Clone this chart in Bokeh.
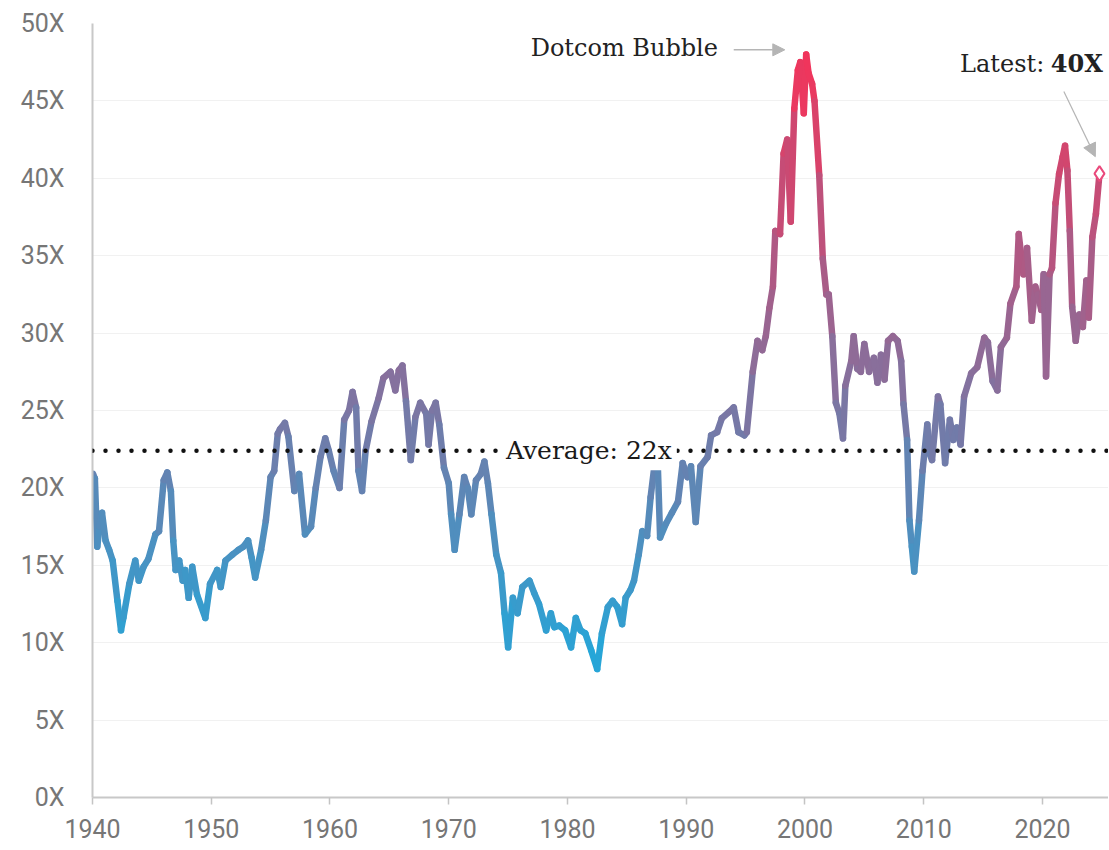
import numpy as np
from bokeh.plotting import figure
from bokeh.models import (Range1d, FixedTicker, PrintfTickFormatter, Span, Label,
                          Arrow, NormalHead, ColumnDataSource)
from bokeh.transform import linear_cmap
from bokeh.embed import file_html
from bokeh.resources import INLINE

# ---------------- data ----------------
years = [1940.05, 1940.2, 1940.4, 1940.6, 1940.8, 1941.1, 1941.4, 1941.7, 1942.1, 1942.4,
         1942.6, 1943.1, 1943.6, 1943.9, 1944.3, 1944.7, 1945.3, 1945.6, 1946.0, 1946.3,
         1946.6, 1946.8, 1947.0, 1947.3, 1947.6, 1947.8, 1948.1, 1948.4, 1948.8, 1949.5,
         1949.9, 1950.5, 1950.8, 1951.2, 1951.8, 1952.3, 1952.7, 1953.1, 1953.4, 1953.7,
         1954.2, 1954.6, 1955.0, 1955.3, 1955.6, 1955.8, 1956.2, 1956.5, 1957.0, 1957.4,
         1957.9, 1958.4, 1958.8, 1959.2, 1959.6, 1959.9, 1960.3, 1960.8, 1961.2, 1961.6,
         1961.9, 1962.2, 1962.4, 1962.7, 1963.0, 1963.5, 1964.1, 1964.5, 1965.1, 1965.5,
         1965.8, 1966.1, 1966.4, 1966.8, 1967.2, 1967.6, 1968.1, 1968.3, 1968.6, 1968.9,
         1969.2, 1969.6, 1970.0, 1970.2, 1970.5, 1970.9, 1971.3, 1971.6, 1971.9, 1972.3,
         1972.7, 1973.0, 1973.3, 1973.6, 1974.0, 1974.4, 1974.7, 1975.0, 1975.4, 1975.8,
         1976.2, 1976.8, 1977.2, 1977.6, 1978.2, 1978.6, 1978.9, 1979.3, 1979.8, 1980.3,
         1980.7, 1981.1, 1981.5, 1982.0, 1982.5, 1982.9, 1983.4, 1983.8, 1984.2, 1984.6,
         1984.9, 1985.3, 1985.6, 1986.0, 1986.3, 1986.7, 1987.0, 1987.3, 1987.6, 1987.8,
         1988.3, 1988.8, 1989.3, 1989.7, 1990.1, 1990.4, 1990.8, 1991.2, 1991.8, 1992.1,
         1992.6, 1993.0, 1993.6, 1994.0, 1994.4, 1994.9, 1995.1, 1995.6, 1996.0, 1996.4,
         1996.7, 1997.0, 1997.3, 1997.5, 1997.9, 1998.2, 1998.5, 1998.8, 1999.1, 1999.4,
         1999.6, 1999.9, 2000.1, 2000.3, 2000.6, 2000.8, 2001.2, 2001.5, 2001.8, 2002.0,
         2002.3, 2002.6, 2002.9, 2003.2, 2003.4, 2003.9, 2004.1, 2004.4, 2004.7, 2005.0,
         2005.4, 2005.8, 2006.1, 2006.4, 2006.7, 2007.0, 2007.4, 2007.8, 2008.1, 2008.3,
         2008.6, 2008.8, 2009.0, 2009.2, 2009.6, 2009.9, 2010.3, 2010.5, 2010.7, 2011.2,
         2011.4, 2011.8, 2012.2, 2012.5, 2012.8, 2013.1, 2013.4, 2014.0, 2014.5, 2015.1,
         2015.4, 2015.8, 2016.2, 2016.5, 2017.0, 2017.3, 2017.8, 2018.0, 2018.4, 2018.7,
         2019.1, 2019.4, 2019.6, 2019.9, 2020.1, 2020.3, 2020.6, 2020.8, 2021.1, 2021.4,
         2021.7, 2021.9, 2022.1, 2022.3, 2022.5, 2022.8, 2023.1, 2023.4, 2023.7, 2023.9,
         2024.2, 2024.5, 2024.8]

pe = [20.9, 20.6, 16.2, 17.5, 18.4, 16.6, 16.0, 15.3, 12.7, 10.8,
      11.6, 13.8, 15.3, 14.0, 14.9, 15.4, 17.0, 17.2, 20.5, 21.0,
      19.8, 16.6, 14.7, 15.3, 14.0, 14.7, 12.9, 14.9, 13.1, 11.6,
      13.8, 14.7, 13.6, 15.3, 15.7, 16.0, 16.2, 16.6, 15.5, 14.2,
      16.0, 17.9, 20.7, 21.1, 23.5, 23.8, 24.2, 23.3, 19.8, 20.9,
      17.0, 17.5, 20.0, 22.0, 23.2, 22.4, 21.1, 20.0, 24.4, 25.0,
      26.2, 25.2, 21.1, 19.8, 22.4, 24.3, 25.8, 27.1, 27.5, 26.3,
      27.6, 27.9, 25.6, 21.8, 24.6, 25.5, 24.8, 22.8, 25.0, 25.5,
      24.1, 21.3, 20.3, 18.3, 16.0, 18.3, 20.7, 20.0, 18.3, 20.5,
      20.9, 21.7, 20.3, 18.3, 15.7, 14.5, 11.9, 9.7, 12.9, 11.9,
      13.6, 14.0, 13.2, 12.5, 10.8, 11.9, 11.0, 11.1, 10.8, 9.7,
      11.6, 10.8, 10.6, 9.5, 8.3, 10.6, 12.3, 12.7, 12.3, 11.2,
      12.9, 13.4, 14.0, 15.7, 17.2, 16.9, 19.4, 21.3, 21.6, 16.8,
      17.7, 18.4, 19.1, 21.6, 20.7, 21.4, 17.8, 21.4, 22.0, 23.4,
      23.6, 24.5, 24.9, 25.2, 23.6, 23.4, 23.6, 27.5, 29.5, 28.9,
      29.8, 31.6, 33.0, 36.6, 36.4, 41.6, 42.5, 37.2, 44.5, 47.0,
      47.5, 44.2, 48.0, 46.8, 46.1, 45.0, 40.2, 34.8, 32.5, 32.5,
      29.8, 25.5, 24.8, 23.2, 26.6, 28.2, 29.8, 27.7, 27.5, 29.3,
      27.5, 28.4, 26.8, 28.6, 27.0, 29.5, 29.8, 29.5, 28.2, 25.4,
      23.1, 17.9, 16.2, 14.6, 17.9, 21.1, 24.1, 22.2, 21.8, 25.9,
      25.4, 21.6, 24.4, 23.1, 23.9, 22.8, 25.9, 27.4, 27.8, 29.7,
      29.4, 26.9, 26.3, 29.1, 29.7, 31.9, 33.0, 36.4, 33.8, 35.5,
      30.8, 33.0, 32.5, 31.5, 33.8, 27.2, 33.8, 34.2, 38.4, 40.3,
      41.4, 42.1, 40.5, 36.6, 31.7, 29.5, 31.2, 30.4, 33.4, 31.0,
      36.2, 37.7, 40.3]

x_ticks = [1940, 1950, 1960, 1970, 1980, 1990, 2000, 2010, 2020]
y_ticks = [0, 5, 10, 15, 20, 25, 30, 35, 40, 45, 50]
average_value = 22.4
average_text = "Average: 22x"
bubble_text = "Dotcom Bubble"
latest_prefix = "Latest:"
latest_value_text = "40X"

# ---------------- styling helpers ----------------
def interp_palette(c0, c1, n=256):
    a = np.array([int(c0[i:i + 2], 16) for i in (1, 3, 5)], dtype=float)
    b = np.array([int(c1[i:i + 2], 16) for i in (1, 3, 5)], dtype=float)
    out = []
    for t in np.linspace(0, 1, n):
        c = np.round(a + (b - a) * t).astype(int)
        out.append("#%02x%02x%02x" % tuple(c))
    return out

palette = interp_palette("#25a6d8", "#f0355c")

seg = ColumnDataSource(dict(
    x0=years[:-1], y0=pe[:-1], x1=years[1:], y1=pe[1:],
    mid=[(a + b) / 2 for a, b in zip(pe[:-1], pe[1:])],
))

p = figure(width=1108, height=848,
           x_range=Range1d(1940, 2025.56), y_range=Range1d(0, 50),
           output_backend="svg", toolbar_location=None,
           min_border_left=92, min_border_right=0, min_border_top=23,
           min_border_bottom=51)
p.outline_line_color = None
p.background_fill_color = "white"
p.border_fill_color = "white"

# grid
p.xgrid.grid_line_color = None
p.ygrid.ticker = FixedTicker(ticks=y_ticks)
p.ygrid.grid_line_color = "#f1f1f1"
p.ygrid.grid_line_width = 1

# axes
tick_font = "Roboto"
p.xaxis.ticker = FixedTicker(ticks=x_ticks)
p.xaxis.minor_tick_line_color = None
p.xaxis.major_tick_out = 7
p.xaxis.major_tick_in = 0
p.xaxis.major_tick_line_color = "#c4c4c4"
p.xaxis.major_tick_line_width = 1.5
p.xaxis.axis_line_color = "#c8c8c8"
p.xaxis.axis_line_width = 2
p.xaxis.major_label_text_font = tick_font
p.xaxis.major_label_text_font_size = "25px"
p.xaxis.major_label_text_color = "#767676"
p.xaxis.major_label_standoff = 14

p.yaxis.ticker = FixedTicker(ticks=y_ticks)
p.yaxis.formatter = PrintfTickFormatter(format="%dX")
p.yaxis.minor_tick_line_color = None
p.yaxis.major_tick_line_color = None
p.yaxis.major_tick_out = 0
p.yaxis.major_tick_in = 0
p.yaxis.axis_line_color = "#c8c8c8"
p.yaxis.axis_line_width = 2
p.yaxis.major_label_text_font = tick_font
p.yaxis.major_label_text_font_size = "25px"
p.yaxis.major_label_text_color = "#767676"
p.yaxis.major_label_standoff = 28

# gradient line
p.segment(x0="x0", y0="y0", x1="x1", y1="y1", source=seg,
          line_color=linear_cmap("mid", palette, 9, 47),
          line_width=6.5, line_cap="round", line_join="round")

# latest marker
p.scatter(x=[years[-1]], y=[pe[-1]], marker="diamond", size=15,
          fill_color="white", line_color="#ea4a7c", line_width=2)

# average line
avg = Span(location=average_value, dimension="width", line_color="#111111",
           line_width=4.5, line_dash="0 13", line_cap="round")
p.add_layout(avg)

serif = "DejaVu Serif"
avg_lbl = Label(x=1981.8, y=average_value, text=average_text,
                text_font=serif, text_font_size="25px", text_color="#1a1a1a",
                text_align="center", text_baseline="middle",
                background_fill_color="white", padding=5)
p.add_layout(avg_lbl)

# dotcom annotation
p.add_layout(Label(x=1976.9, y=48.4, text=bubble_text, text_font=serif,
                   text_font_size="24px", text_color="#222222",
                   text_align="left", text_baseline="middle"))
p.add_layout(Arrow(x_start=1994.0, y_start=48.3, x_end=1998.3, y_end=48.3,
                   line_color="#b5b5b5", line_width=1.5,
                   end=NormalHead(size=12, fill_color="#b5b5b5",
                                  line_color="#b5b5b5")))

# latest annotation
p.add_layout(Label(x=2020.15, y=47.4, text=latest_prefix, text_font=serif,
                   text_font_size="24px", text_color="#222222",
                   text_align="right", text_baseline="middle"))
p.add_layout(Label(x=2020.7, y=47.4, text=latest_value_text, text_font=serif,
                   text_font_size="24px", text_color="#222222",
                   text_font_style="bold",
                   text_align="left", text_baseline="middle"))
p.add_layout(Arrow(x_start=2021.8, y_start=45.6, x_end=2024.45, y_end=41.4,
                   line_color="#b5b5b5", line_width=1.2,
                   end=NormalHead(size=13, fill_color="#b5b5b5",
                                  line_color="#b5b5b5")))

open("out.html", "w").write(file_html(p, INLINE))
